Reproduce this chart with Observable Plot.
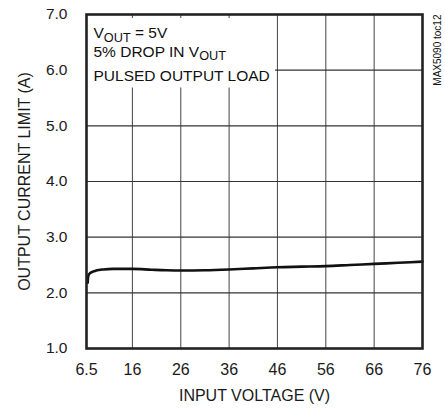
<!DOCTYPE html>
<html>
<head>
<meta charset="utf-8">
<script src="https://cdn.jsdelivr.net/npm/d3@7"></script>
<script src="https://cdn.jsdelivr.net/npm/@observablehq/plot@0.6"></script>
<style>
  html, body { margin: 0; padding: 0; background: #fff; }
</style>
</head>
<body>
<div id="chart"></div>
<script>
// Data
const inputVoltage = [6.75, 6.8, 6.9, 7.2, 7.8, 8.5, 10, 12, 14, 16, 20, 23, 26, 31, 36, 41, 46, 51, 56, 61, 66, 71, 76];
const currentLimit = [2.18, 2.26, 2.31, 2.35, 2.38, 2.40, 2.42, 2.43, 2.43, 2.43, 2.415, 2.405, 2.40, 2.405, 2.42, 2.44, 2.46, 2.47, 2.48, 2.50, 2.52, 2.54, 2.56];
const xTicks = [6.5, 16, 26, 36, 46, 56, 66, 76];
const yTicks = [1, 2, 3, 4, 5, 6, 7];
const annotationLines = ["V_{OUT} = 5V", "5% DROP IN V_{OUT}", "PULSED OUTPUT LOAD"];
const annotationY = [6.66, 6.32, 5.89];
const xLabel = "INPUT VOLTAGE (V)";
const yLabel = "OUTPUT CURRENT LIMIT (A)";
const figureId = "MAX5090 toc12";

const curve = inputVoltage.map((v, i) => ({v, a: currentLimit[i]}));
const notes = annotationLines.map((t, i) => ({t, y: annotationY[i]}));

const plot = Plot.plot({
  width: 445,
  height: 410,
  marginLeft: 86,
  marginRight: 23,
  marginTop: 14,
  marginBottom: 62,
  style: {fontFamily: "'Liberation Sans', Arial, sans-serif", fontSize: "15px", color: "#1a1a1a", background: "#fff"},
  x: {domain: [6.5, 76]},
  y: {domain: [1, 7]},
  marks: [
    Plot.gridX(xTicks.slice(1, -1), {stroke: "#555", strokeOpacity: 1, strokeWidth: 1.1}),
    Plot.gridY(yTicks.slice(1, -1), {stroke: "#333", strokeOpacity: 1, strokeWidth: 1.1}),
    Plot.rect([{}], {x1: 6.5, x2: 45.6, y1: 5.68, y2: 7, fill: "white"}),
    Plot.ruleX(xTicks.slice(1, 4), {y1: 7, y2: 6.93, stroke: "#555", strokeWidth: 1.1}),
    Plot.line(curve, {x: "v", y: "a", curve: "monotone-x", stroke: "#111", strokeWidth: 2.6}),
    Plot.frame({stroke: "#222", strokeWidth: 2.6}),
    Plot.axisX(xTicks, {tickSize: 0, tickPadding: 15, fontSize: 16, tickFormat: d => String(d),
      label: xLabel, labelAnchor: "center", labelArrow: "none", labelOffset: 52, fill: "#1a1a1a"}),
    Plot.axisY(yTicks, {tickSize: 0, tickPadding: 19, fontSize: 15.5, tickFormat: d => d.toFixed(1),
      label: yLabel, labelAnchor: "center", labelArrow: "none", labelOffset: 68, fill: "#1a1a1a"}),
    Plot.text(notes, {x: 6.5, y: "y", text: "t", textAnchor: "start", dx: 7, fontSize: 15.5, fill: "#111"}),
    Plot.text([figureId], {frameAnchor: "top-right", rotate: -90, textAnchor: "end", dx: 11, fontSize: 10, fill: "#111"})
  ]
});

// Label font sizes
d3.select(plot).selectAll("[aria-label='x-axis label'] text, [aria-label='y-axis label'] text").attr("font-size", 16);

// Render subscripts in the annotation lines
d3.select(plot).selectAll("text").each(function() {
  const el = d3.select(this);
  const s = el.text();
  if (!s.includes("_{")) return;
  el.text(null);
  const parts = s.split(/(_\{[^}]*\})/);
  let shifted = false;
  for (const p of parts) {
    if (!p) continue;
    if (p.startsWith("_{")) {
      el.append("tspan").attr("dy", "0.25em").attr("font-size", "0.82em").text(p.slice(2, -1));
      shifted = true;
    } else {
      const t = el.append("tspan").text(p);
      if (shifted) { t.attr("dy", "-0.205em"); shifted = false; }
    }
  }
});

document.getElementById("chart").appendChild(plot);
</script>
</body>
</html>
